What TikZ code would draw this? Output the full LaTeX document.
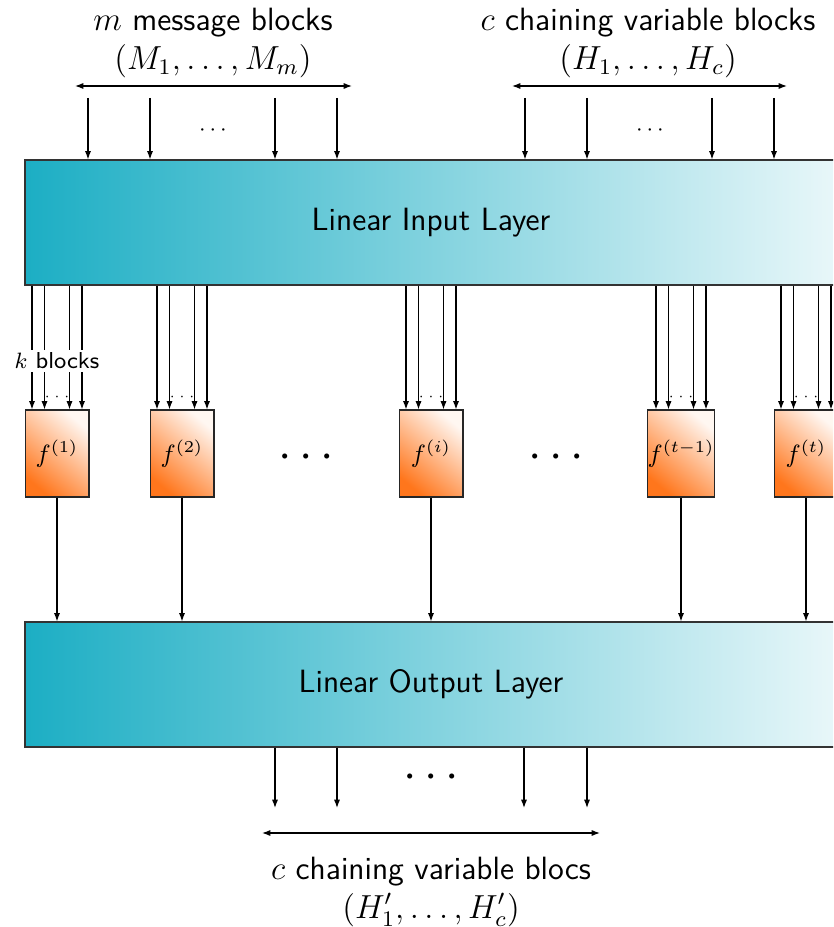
\documentclass[tikz,border=0pt]{standalone}
\usetikzlibrary{arrows.meta}
\definecolor{layerteal}{RGB}{28,174,196}
\definecolor{boxorange}{RGB}{255,118,28}
\begin{document}
\begin{tikzpicture}[x=0.36pt,y=-0.36pt,
  font=\sffamily,
  arr/.style={-{Latex[length=3pt,width=2.2pt]}, line width=0.4pt},
  darr/.style={{Latex[length=3pt,width=2.2pt]}-{Latex[length=3pt,width=2.2pt]}, line width=0.4pt},
  layer/.style={draw=black!80, line width=0.4pt, left color=layerteal, right color=layerteal!10,
    minimum width=292.3pt, minimum height=45pt, inner sep=0pt,
    font=\sffamily\fontsize{11.6}{13.7}\selectfont},
  fbox/.style={draw=black!85, line width=0.4pt, bottom color=boxorange, top color=boxorange!6,
    shading angle=-40, minimum width=23pt, minimum height=31.3pt, inner sep=0pt,
    font=\fontsize{8.8}{10}\selectfont},
  label/.style={align=center, font=\sffamily\fontsize{11.6}{13.7}\selectfont},
  bigdots/.style={font=\fontsize{17.8}{20}\selectfont},
  smalldots/.style={font=\fontsize{5}{6}\selectfont, inner sep=0pt},
  middots/.style={font=\fontsize{8.5}{10}\selectfont}
]
\useasboundingbox (0,0) rectangle (833,927);
\clip (0,0) rectangle (833,927);

% layers
\node[layer] (in)  at (431,222.5) {Linear Input Layer};
\node[layer] (out) at (431,684.5) {Linear Output Layer};

% round functions
\node[fbox] (f1) at (57,453.5)  {$f^{(1)}$};
\node[fbox] (f2) at (182,453.5) {$f^{(2)}$};
\node[fbox] (fi) at (431,453.5) {$f^{(i)}$};
\node[fbox] (ft1) at (681,453.5) {$f^{(t-1)}$};
\node[fbox] (ft) at (806,453.5) {$f^{(t)}$};

\node[bigdots] (d1) at (306,458) {$\cdots$};
\node[bigdots] (d2) at (556,458) {$\cdots$};

% k blocks from the input layer into each function
\foreach \f in {f1,f2,fi,ft1,ft} {
  \foreach \s in {-9pt,-4.5pt,4.5pt,9pt}
    \draw[arr] ([xshift=\s]\f.north |- in.south) -- ([xshift=\s]\f.north);
  \node[smalldots] at ([yshift=4.4pt]\f.north) {$\cdots$};
  \draw[arr] (\f.south) -- (\f.south |- out.north);
}
\node[fill=white, inner sep=1pt, font=\sffamily\fontsize{8.3}{10}\selectfont] (kb) at (57,361) {$k$ blocks};

% message block inputs
\node[label] (ml) at (213,43) {$m$ message blocks\\$(M_1,\ldots,M_m)$};
\coordinate (ma) at (75,86);
\coordinate (mb) at (352,86);
\draw[darr] (ma) -- (mb);
\foreach \x in {88,150,275,337}
  \draw[arr] (\x,98) -- (\x,98 |- in.north);
\node[middots] (md) at (213,130) {$\cdots$};

% chaining variable inputs
\node[label] (hl) at (648,43) {$c$ chaining variable blocks\\$(H_1,\ldots,H_c)$};
\coordinate (ha) at (512,86);
\coordinate (hb) at (787,86);
\draw[darr] (ha) -- (hb);
\foreach \x in {525,587,712,774}
  \draw[arr] (\x,98) -- (\x,98 |- in.north);
\node[middots] (hd) at (650,130) {$\cdots$};

% chaining variable outputs
\foreach \x in {275,337,524,587}
  \draw[arr] (\x,0 |- out.south) -- (\x,808);
\node[bigdots] (d3) at (431,778) {$\cdots$};
\coordinate (oa) at (262,833);
\coordinate (ob) at (600,833);
\draw[darr] (oa) -- (ob);
\node[label] (ol) at (431,892) {$c$ chaining variable blocs\\$(H'_1,\ldots,H'_c)$};
\end{tikzpicture}
\end{document}
